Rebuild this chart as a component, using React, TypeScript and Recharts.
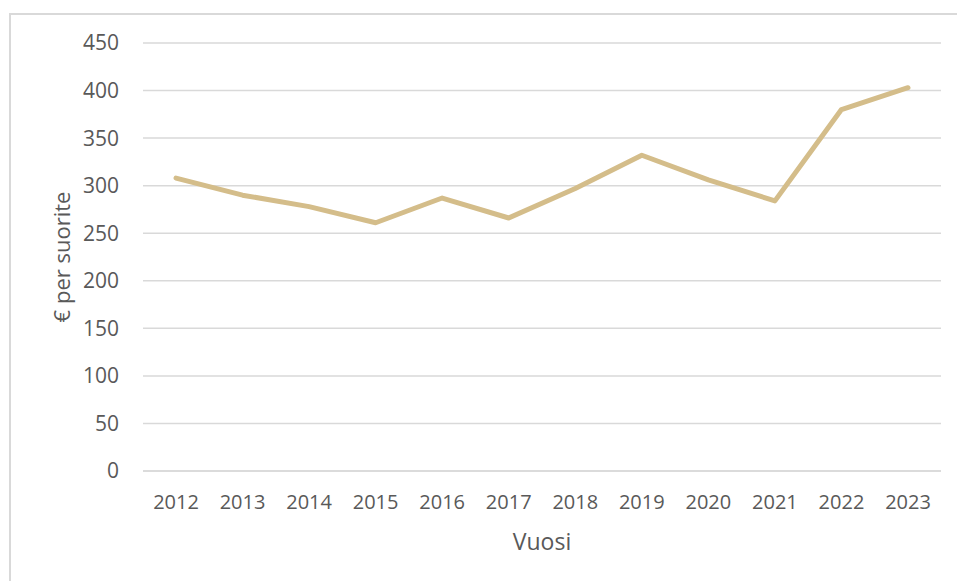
import React from 'react';
import { LineChart, Line, XAxis, YAxis, CartesianGrid } from 'recharts';

const years = ['2012', '2013', '2014', '2015', '2016', '2017', '2018', '2019', '2020', '2021', '2022', '2023'];
const values = [308, 290, 278, 261, 287, 266, 297, 332, 306, 284, 380, 403];
const yTicks = [0, 50, 100, 150, 200, 250, 300, 350, 400, 450];

const data = years.map((year, i) => ({ year, value: values[i] }));

const lineColor = '#d4bd8a';
const gridColor = '#d9d9d9';
const textColor = '#595959';

const App: React.FC = () => {
  return (
    <div style={{ position: 'absolute', left: 0, top: 0, width: 957, height: 581, overflow: 'hidden', background: '#fff' }}>
      <div
        style={{
          position: 'absolute',
          left: 9,
          top: 13,
          width: 1000,
          height: 700,
          border: `2px solid ${gridColor}`,
          boxSizing: 'border-box',
        }}
      />
      <div style={{ position: 'absolute', left: 0, top: 0 }}>
        <LineChart
          width={957}
          height={581}
          data={data}
          margin={{ top: 43, right: 16, bottom: 0, left: 0 }}
          style={{ fontFamily: '"Open Sans", sans-serif' }}
        >
          <CartesianGrid vertical={false} stroke={gridColor} strokeWidth={1.5} />
          <XAxis
            dataKey="year"
            height={110}
            padding={{ left: 33, right: 33 }}
            tickLine={false}
            axisLine={{ stroke: gridColor, strokeWidth: 1.5 }}
            tickMargin={18}
            tick={{ fill: textColor, fontSize: 20 }}
            label={{ value: 'Vuosi', position: 'insideBottom', offset: 31, fill: textColor, fontSize: 23 }}
          />
          <YAxis
            width={143}
            domain={[0, 450]}
            ticks={yTicks}
            tickLine={false}
            axisLine={false}
            tickMargin={18}
            tick={{ fill: textColor, fontSize: 21 }}
            label={{
              value: '€ per suorite',
              angle: -90,
              position: 'insideLeft',
              offset: 62,
              fill: textColor,
              fontSize: 22,
              style: { textAnchor: 'middle' },
            }}
          />
          <Line
            type="linear"
            dataKey="value"
            stroke={lineColor}
            strokeWidth={5}
            dot={false}
            strokeLinecap="round"
            strokeLinejoin="round"
            isAnimationActive={false}
          />
        </LineChart>
      </div>
    </div>
  );
};

export default App;
